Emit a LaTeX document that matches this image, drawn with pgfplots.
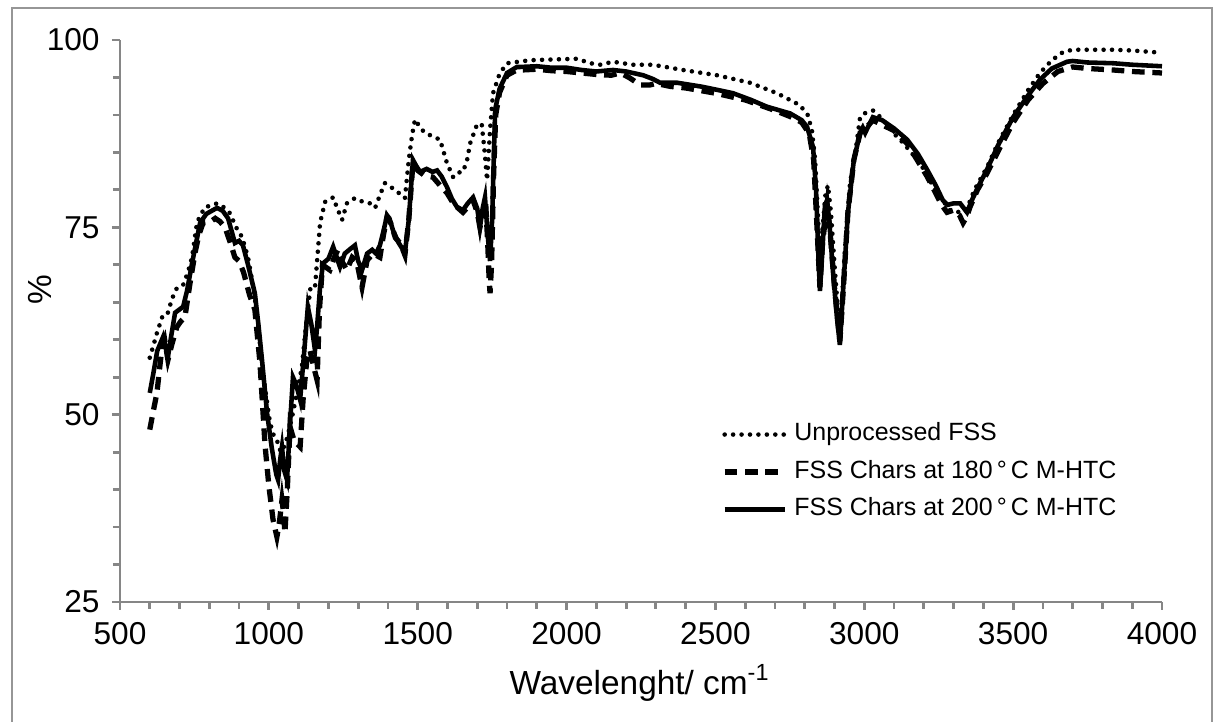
\documentclass[border=0pt]{standalone}
\usepackage{fontspec}
\setmainfont{Liberation Sans}
\usepackage{pgfplots}
\pgfplotsset{compat=1.18}
\definecolor{axgray}{RGB}{134,134,134}
\definecolor{framegray}{RGB}{150,150,150}

\begin{document}
\begin{tikzpicture}[x=1cm,y=1cm]
\useasboundingbox (0,0) rectangle (12.14,7.22);
% outer chart frame
\draw[framegray, line width=0.6pt] (0.12,-0.2) -- (0.12,7.14) -- (12.12,7.14) -- (12.12,-0.2);
\begin{axis}[
  at={(1.20cm,1.20cm)}, anchor=origin,
  scale only axis, width=10.42cm, height=5.62cm,
  xmin=500, xmax=4000, ymin=25, ymax=100,
  xtick={500,1000,...,4000}, ytick={25,50,75,100},
  minor x tick num=4, minor y tick num=4,
  axis lines=left, axis line style={-, axgray, line width=0.8pt},
  every tick/.style={axgray, line width=0.8pt},
  tick align=outside, major tick length=0.08cm, minor tick length=0.07cm,
  /pgf/number format/assume math mode=true,
  /pgf/number format/1000 sep={},
  tick label style={font=\fontsize{9}{10}\selectfont, black},
  xlabel={Wavelenght/ cm\textsuperscript{-1}},
  ylabel={\%},
  xlabel style={font=\fontsize{9.5}{11}\selectfont, at={(axis description cs:0.499,-0.144)}, anchor=center},
  ylabel style={font=\fontsize{9.5}{11}\selectfont, at={(axis description cs:-0.077,0.555)}, anchor=center},
  legend style={draw=none, fill=none, at={(axis description cs:0.567,0.345)}, anchor=north west,
    font=\fontsize{7.1}{8.5}\selectfont, row sep=0pt},
  legend cell align=left,
  clip=false,
]
\addplot[black, line width=1.3pt, line cap=round, dash pattern=on 0pt off 2.4pt] coordinates {
(600,57.6)(612,59.2)(624,60.9)(644,63.3)(660,63.5)(675,65.5)(691,66.9)(712,67.3)(728,69.0)(742,71.0)
(759,75.7)(785,77.7)(805,77.9)(826,78.2)(845,77.8)(869,76.9)(890,75.0)(910,73.7)(930,71.0)(950,66.5)
(965,61.5)(980,55.5)(1004,48.9)(1018,47.0)(1027,46.6)(1040,45.0)(1055,46.0)(1065,47.5)(1078,49.7)(1095,53.0)
(1111,56.4)(1125,62.0)(1140,67.0)(1155,67.0)(1165,72.0)(1172,75.6)(1189,78.4)(1216,79.0)(1230,77.5)(1246,76.0)
(1262,78.2)(1289,78.9)(1316,78.4)(1340,78.2)(1357,77.6)(1375,79.5)(1390,80.9)(1405,80.5)(1424,80.0)(1457,78.9)
(1470,84.0)(1481,87.3)(1491,89.4)(1510,88.2)(1525,87.6)(1575,86.7)(1598,83.6)(1619,81.7)(1635,82.3)(1652,82.4)
(1666,84.0)(1676,86.2)(1699,88.7)(1715,88.8)(1725,85.0)(1733,81.3)(1743,88.0)(1753,92.9)(1775,95.5)(1800,96.9)
(1877,97.3)(1950,97.4)(2035,97.5)(2080,96.9)(2112,96.7)(2156,97.1)(2223,96.7)(2290,96.7)(2391,96.0)(2505,95.3)
(2616,94.3)(2707,92.9)(2784,91.3)(2810,90.0)(2824,88.0)(2835,84.0)(2845,76.0)(2852,69.5)(2860,75.0)(2870,79.5)
(2878,80.6)(2888,77.0)(2900,70.0)(2918,60.5)(2935,72.0)(2952,80.9)(2970,85.0)(2986,89.7)(3000,90.2)(3029,90.6)
(3060,89.5)(3100,87.5)(3130,86.3)(3187,83.6)(3244,79.6)(3288,77.3)(3322,77.0)(3345,77.5)(3370,80.0)(3412,83.0)
(3450,86.3)(3500,90.0)(3550,93.3)(3590,95.6)(3630,97.3)(3668,98.4)(3700,98.7)(3836,98.7)(3900,98.6)(4000,98.3)
};
\addlegendentry{Unprocessed FSS}
\addplot[black, line width=1.5pt, dash pattern=on 3.6pt off 2.2pt] coordinates {
(600,48.0)(612,50.5)(624,52.9)(641,59.0)(650,60.0)(661,57.3)(675,59.5)(691,61.7)(705,62.5)(718,63.0)
(735,67.5)(752,71.6)(765,74.0)(779,75.6)(802,75.7)(820,76.2)(835,75.8)(853,75.0)(870,73.0)(886,71.0)
(900,70.5)(915,69.0)(935,66.0)(953,64.0)(970,57.0)(987,46.0)(1000,40.5)(1014,36.0)(1027,33.7)(1035,35.5)
(1044,38.6)(1049,37.0)(1054,34.2)(1062,40.0)(1071,48.4)(1085,46.5)(1105,45.7)(1115,52.0)(1128,57.5)(1138,58.6)
(1150,56.5)(1162,54.6)(1170,64.0)(1180,70.0)(1205,69.3)(1220,71.0)(1232,72.0)(1245,70.5)(1262,69.3)(1280,71.0)
(1295,70.5)(1305,68.5)(1313,67.0)(1320,68.5)(1330,70.6)(1350,71.5)(1373,71.0)(1385,74.0)(1397,76.4)(1410,75.5)
(1425,73.6)(1441,72.9)(1457,71.3)(1470,76.0)(1484,83.6)(1500,82.6)(1520,82.0)(1551,81.7)(1575,80.6)(1598,79.6)
(1615,78.5)(1632,77.7)(1652,77.0)(1670,77.8)(1686,78.6)(1700,77.0)(1709,75.0)(1720,77.0)(1728,78.5)(1735,73.0)
(1740,68.0)(1743,66.2)(1748,70.0)(1755,82.0)(1762,90.0)(1775,93.0)(1800,95.3)(1833,96.0)(1850,96.0)(1900,96.1)
(1950,95.9)(2000,95.8)(2050,95.6)(2100,95.4)(2150,95.3)(2180,95.6)(2210,95.0)(2247,94.0)(2280,94.0)(2300,94.2)
(2350,93.8)(2400,93.6)(2500,92.9)(2600,92.0)(2700,90.6)(2750,89.8)(2790,89.0)(2815,87.5)(2830,84.0)(2840,76.0)
(2851,67.0)(2860,73.0)(2875,78.0)(2884,75.0)(2900,67.0)(2918,59.8)(2930,67.0)(2945,77.0)(2965,84.0)(2986,87.6)
(3000,88.0)(3029,89.3)(3100,87.9)(3144,86.2)(3211,81.8)(3260,78.0)(3278,77.0)(3300,77.3)(3320,76.6)(3332,75.6)
(3345,76.5)(3355,77.7)(3380,80.0)(3412,82.2)(3450,85.2)(3500,89.0)(3550,92.0)(3600,94.2)(3650,95.8)(3700,96.4)
(3750,96.2)(3836,96.0)(3900,95.8)(4000,95.6)
};
\addlegendentry{FSS Chars at 180\,°\,C M-HTC}
\addplot[black, line width=1.3pt] coordinates {
(600,52.9)(612,55.5)(625,58.5)(645,60.4)(661,57.7)(672,60.5)(685,63.6)(712,64.4)(725,66.5)(742,70.2)
(769,75.6)(790,76.8)(826,77.6)(845,77.2)(863,76.2)(875,74.5)(886,72.9)(900,73.2)(913,72.6)(930,70.0)
(953,66.2)(965,62.0)(977,57.3)(994,50.2)(1010,45.5)(1025,42.0)(1031,41.3)(1038,44.0)(1044,45.7)(1052,42.5)
(1061,41.3)(1070,48.0)(1081,55.0)(1092,54.0)(1105,52.0)(1118,58.0)(1131,64.4)(1143,62.0)(1155,58.6)(1162,61.7)
(1172,67.0)(1182,70.2)(1200,70.8)(1216,72.4)(1228,71.0)(1239,69.7)(1255,71.5)(1270,72.0)(1289,72.6)(1300,70.5)
(1313,69.3)(1330,71.5)(1347,72.0)(1360,71.5)(1373,72.6)(1385,74.5)(1397,76.6)(1405,76.2)(1417,74.6)(1435,73.0)
(1457,71.6)(1470,76.0)(1484,84.0)(1495,83.2)(1508,82.4)(1530,82.8)(1550,82.4)(1565,82.6)(1580,81.8)(1598,80.4)
(1615,78.8)(1632,77.7)(1652,77.3)(1668,78.2)(1686,79.0)(1700,77.5)(1709,75.0)(1718,77.5)(1726,79.0)(1735,74.0)
(1743,70.5)(1750,76.0)(1760,90.7)(1775,93.5)(1800,95.6)(1833,96.4)(1843,96.4)(1900,96.5)(1950,96.3)(2001,96.3)
(2050,96.0)(2100,95.8)(2156,96.0)(2200,95.8)(2257,95.3)(2290,94.8)(2314,94.3)(2371,94.3)(2450,93.8)(2500,93.4)
(2559,92.9)(2620,92.0)(2673,91.1)(2751,90.2)(2790,89.3)(2808,88.4)(2828,85.7)(2838,80.0)(2845,72.0)(2851,66.5)
(2858,71.0)(2868,78.0)(2875,78.6)(2882,76.0)(2895,69.0)(2908,63.0)(2918,59.3)(2928,66.0)(2945,76.9)(2965,84.0)
(2986,87.6)(2995,88.3)(3003,87.6)(3015,88.6)(3029,89.7)(3060,89.3)(3100,88.2)(3144,86.7)(3180,84.8)(3211,82.7)
(3240,80.6)(3264,78.6)(3280,78.0)(3300,78.2)(3322,78.2)(3345,77.0)(3360,78.5)(3380,80.2)(3412,82.7)(3450,86.0)
(3500,89.7)(3550,92.6)(3590,94.7)(3630,96.2)(3681,97.1)(3700,97.2)(3750,97.0)(3836,96.9)(3900,96.7)(4000,96.5)
};
\addlegendentry{FSS Chars at 200\,°\,C M-HTC}
\end{axis}
\end{tikzpicture}
\end{document}
